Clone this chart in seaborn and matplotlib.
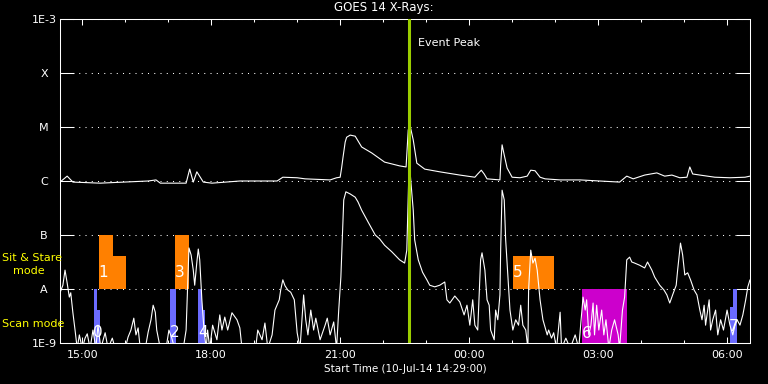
import numpy as np
import pandas as pd
import matplotlib.pyplot as plt
import matplotlib.dates as mdates
from matplotlib.ticker import NullLocator
import seaborn as sns

# ==================================================
# 1. DATA  (minutes after start, log10 flux in W/m^2)
# ==================================================

start = pd.Timestamp("2014-07-10 14:29:00")
end_min = 963
peak_min = 487

# 1-8 Angstrom channel
long_min = [0, 10, 18, 56, 123, 134, 140, 176, 181, 186,
            191, 200, 212, 251, 303, 311, 331, 342, 377, 386,
            391, 393, 395, 398, 400, 405, 412, 421, 435, 453,
            474, 483, 486, 488, 493, 498, 509, 530, 558, 579,
            583, 588, 592, 596, 614, 615, 617, 620, 624, 631,
            642, 652, 657, 663, 670, 677, 698, 726, 753, 781,
            791, 800, 816, 833, 844, 854, 865, 875, 879, 883,
            893, 914, 935, 956, 963]
long_log = [-6.02, -5.91, -6.02, -6.04, -6.00, -5.98, -6.04, -6.04, -5.78, -6.02,
            -5.83, -6.02, -6.04, -6.00, -6.00, -5.93, -5.94, -5.96, -5.98, -5.94,
            -5.93, -5.76, -5.56, -5.28, -5.19, -5.15, -5.17, -5.37, -5.48, -5.65,
            -5.72, -5.74, -5.06, -4.94, -5.24, -5.67, -5.78, -5.83, -5.89, -5.93,
            -5.87, -5.80, -5.87, -5.96, -5.98, -5.70, -5.33, -5.52, -5.76, -5.93,
            -5.94, -5.91, -5.80, -5.81, -5.93, -5.96, -5.98, -5.98, -6.00, -6.02,
            -5.91, -5.96, -5.89, -5.85, -5.91, -5.89, -5.94, -5.93, -5.74, -5.87,
            -5.89, -5.93, -5.94, -5.93, -5.91]

# 0.5-4 Angstrom channel
short_min = [0, 4, 7, 10, 13, 15, 18, 21, 24, 27,
             31, 35, 38, 42, 46, 50, 53, 57, 63, 67,
             73, 77, 91, 95, 99, 103, 106, 109, 112, 119,
             123, 127, 130, 133, 135, 140, 148, 152, 156, 160,
             172, 176, 179, 180, 183, 186, 188, 191, 193, 195,
             198, 201, 204, 206, 209, 213, 219, 223, 226, 230,
             234, 240, 247, 251, 254, 273, 276, 282, 286, 290,
             296, 300, 306, 308, 311, 314, 318, 322, 327, 331,
             335, 340, 343, 346, 350, 354, 357, 363, 370, 373,
             377, 382, 386, 389, 392, 395, 396, 399, 405, 412,
             416, 421, 430, 440, 446, 453, 463, 474, 481, 484,
             487, 488, 493, 495, 500, 506, 512, 516, 523, 530,
             537, 540, 544, 551, 558, 564, 568, 572, 576, 579,
             583, 587, 589, 593, 596, 599, 601, 606, 608, 611,
             614, 615, 617, 620, 622, 625, 628, 632, 636, 640,
             643, 646, 650, 653, 654, 657, 660, 663, 666, 670,
             674, 680, 682, 686, 689, 693, 698, 700, 706, 712,
             719, 724, 727, 730, 733, 735, 738, 741, 744, 746,
             749, 752, 756, 759, 762, 766, 770, 774, 779, 781,
             785, 788, 791, 795, 798, 802, 809, 816, 820, 826,
             830, 837, 843, 847, 851, 855, 860, 862, 865, 866,
             869, 872, 876, 880, 885, 889, 893, 896, 899, 901,
             906, 908, 911, 915, 918, 922, 926, 931, 935, 939,
             942, 945, 949, 953, 957, 960, 963]
short_log = [-8.07, -7.93, -7.65, -7.89, -8.15, -8.07, -8.44, -8.76, -9.1, -8.85,
             -9.1, -8.91, -8.83, -9.1, -8.76, -9.1, -8.67, -9.1, -8.81, -9.1,
             -8.91, -9.1, -9.1, -8.89, -8.76, -8.54, -8.85, -8.72, -9.1, -9.1,
             -8.80, -8.57, -8.30, -8.43, -8.76, -9.1, -9.1, -8.76, -8.91, -9.1,
             -9.1, -8.76, -7.65, -7.24, -7.37, -7.65, -7.93, -7.50, -7.26, -7.46,
             -8.20, -8.76, -9.1, -8.76, -9.1, -8.67, -8.94, -8.48, -8.76, -8.52,
             -8.76, -8.44, -8.57, -8.72, -9.1, -9.1, -8.76, -8.94, -8.63, -9.1,
             -8.85, -8.39, -8.20, -8.02, -7.83, -7.94, -8.02, -8.06, -8.20, -8.81,
             -9.1, -8.11, -8.57, -8.85, -8.39, -8.76, -8.54, -8.94, -8.67, -8.54,
             -8.85, -8.61, -9.1, -8.39, -7.78, -6.72, -6.35, -6.20, -6.24, -6.30,
             -6.39, -6.54, -6.76, -7.00, -7.07, -7.19, -7.31, -7.46, -7.52, -7.28,
             -5.80, -5.74, -6.54, -7.09, -7.46, -7.69, -7.83, -7.93, -7.96, -7.93,
             -7.87, -8.20, -8.26, -8.13, -8.24, -8.48, -8.30, -8.67, -8.20, -8.67,
             -8.76, -7.46, -7.33, -7.65, -8.20, -8.30, -8.76, -8.94, -8.39, -8.57,
             -8.11, -7.28, -6.17, -6.35, -7.09, -7.74, -8.39, -8.76, -8.57, -8.67,
             -8.30, -8.67, -8.76, -9.1, -8.02, -7.28, -7.52, -7.43, -7.65, -8.20,
             -8.57, -8.85, -8.76, -8.91, -8.81, -9.1, -8.43, -9.1, -8.91, -9.1,
             -8.85, -9.1, -8.61, -8.15, -8.39, -8.20, -8.85, -8.67, -8.26, -8.85,
             -8.30, -8.76, -8.39, -8.85, -8.57, -9.1, -8.76, -8.57, -8.85, -9.1,
             -8.39, -8.15, -7.46, -7.41, -7.50, -7.52, -7.56, -7.61, -7.50, -7.65,
             -7.78, -7.93, -8.02, -8.11, -8.26, -8.11, -7.93, -7.65, -7.28, -7.15,
             -7.37, -7.74, -7.70, -7.83, -8.02, -8.11, -8.39, -8.57, -8.30, -8.67,
             -8.20, -8.76, -8.57, -8.39, -8.85, -8.57, -8.76, -8.39, -8.67, -8.85,
             -8.67, -8.57, -8.67, -8.48, -8.20, -7.96, -7.83]

# observing modes
sit_start = [54, 74, 160, 632]
sit_end = [74, 92, 180, 689]
sit_top = [-7.0, -7.39, -7.0, -7.39]

scan_start = [47, 52, 153, 193, 198, 935, 939]
scan_end = [52, 56, 162, 198, 202, 939, 945]
scan_top = [-8.0, -8.39, -8.0, -8.0, -8.39, -8.33, -8.0]

other_start = [728]
other_end = [791]
other_top = [-8.0]

mode_label = ["0", "1", "2", "3", "4", "5", "6", "7"]
label_min = [53, 60, 160, 167, 200, 639, 735, 940]
label_log = [-8.81, -7.70, -8.81, -7.70, -8.81, -7.70, -8.83, -8.70]

ytick_val = [1e-9, 1e-8, 1e-7, 1e-6, 1e-5, 1e-4, 1e-3]
ytick_lab = ["1E-9", "A", "B", "C", "M", "X", "1E-3"]


def to_t(m):
    return start + pd.to_timedelta(m, unit="m")


long_df = pd.DataFrame({"time": to_t(long_min), "flux": 10.0 ** np.array(long_log)})
short_df = pd.DataFrame({"time": to_t(short_min), "flux": 10.0 ** np.array(short_log)})

# ==================================================
# 2. STYLE
# ==================================================

sns.set_style("dark", {"axes.facecolor": "black", "figure.facecolor": "black"})
plt.rcParams["font.family"] = ["DejaVu Sans"]

fig = plt.figure(figsize=(7.68, 3.84), dpi=100, facecolor="black")
ax = fig.add_axes([60 / 768, 1 - 343 / 384, 690 / 768, 324 / 384])
ax.set_facecolor("black")
ax.set_yscale("log")

# ==================================================
# 3. MODE BLOCKS
# ==================================================

for s, e, top in zip(sit_start, sit_end, sit_top):
    ax.fill_between([to_t(s), to_t(e)], 1e-8, 10.0 ** top, color="#ff8000", lw=0, zorder=1)

for s, e, top in zip(scan_start, scan_end, scan_top):
    ax.fill_between([to_t(s), to_t(e)], 1e-9, 10.0 ** top, color="#6b6bff", lw=0, zorder=1)

for s, e, top in zip(other_start, other_end, other_top):
    ax.fill_between([to_t(s), to_t(e)], 1e-9, 10.0 ** top, color="#cc00cc", lw=0, zorder=1)

for lab, m, lg in zip(mode_label, label_min, label_log):
    ax.text(to_t(m), 10.0 ** lg, lab, color="white", fontsize=11,
            ha="center", va="center", zorder=2)

# ==================================================
# 4. X-RAY CURVES
# ==================================================

sns.lineplot(data=long_df, x="time", y="flux", ax=ax, color="white",
             lw=0.8, estimator=None, sort=False, zorder=3)
sns.lineplot(data=short_df, x="time", y="flux", ax=ax, color="white",
             lw=0.8, estimator=None, sort=False, zorder=3)

ax.axvline(to_t(peak_min), color="#9acd00", lw=2.2, zorder=4)
ax.annotate("Event Peak", xy=(to_t(peak_min), 1e-3), xytext=(6.5, -17),
            textcoords="offset points", color="white", fontsize=8,
            ha="left", va="center")

# ==================================================
# 5. AXES
# ==================================================

ax.set_ylim(1e-9, 1e-3)
ax.set_yticks(ytick_val, labels=ytick_lab)
ax.yaxis.set_minor_locator(NullLocator())
ax.tick_params(axis="y", which="major", direction="in", length=10, width=0.75,
               left=True, right=True, colors="white", labelsize=8, pad=11.5)
plt.setp(ax.get_yticklabels(), ha="center")

ax.set_xlim(to_t(0), to_t(end_min))
ax.xaxis.set_major_locator(mdates.HourLocator(byhour=range(0, 24, 3)))
ax.xaxis.set_minor_locator(mdates.HourLocator())
ax.xaxis.set_major_formatter(mdates.DateFormatter("%H:%M"))
ax.tick_params(axis="x", which="major", direction="in", length=4.3, width=0.75,
               top=True, bottom=True, colors="white", labelsize=8, pad=5)
ax.tick_params(axis="x", which="minor", direction="in", length=2.2, width=0.75,
               top=True, bottom=True, colors="white")

ax.grid(False)
ax.grid(axis="y", which="major", color="white", linestyle=(0, (1, 5)), linewidth=0.75)

for sp in ax.spines.values():
    sp.set_color("white")
    sp.set_linewidth(0.75)

ax.set_ylabel("")
ax.set_xlabel("Start Time (10-Jul-14 14:29:00)", color="white", fontsize=7.5, labelpad=3)

fig.text(0.5, 1 - 8 / 384, "GOES 14 X-Rays:", ha="center", va="center",
         color="white", fontsize=8.5)
fig.text(2 / 768, 1 - 258 / 384, "Sit & Stare", color="yellow", fontsize=8, va="center")
fig.text(13 / 768, 1 - 271 / 384, "mode", color="yellow", fontsize=8, va="center")
fig.text(2 / 768, 1 - 324 / 384, "Scan mode", color="yellow", fontsize=8, va="center")

fig.savefig("out.png", dpi=100, facecolor="black")
